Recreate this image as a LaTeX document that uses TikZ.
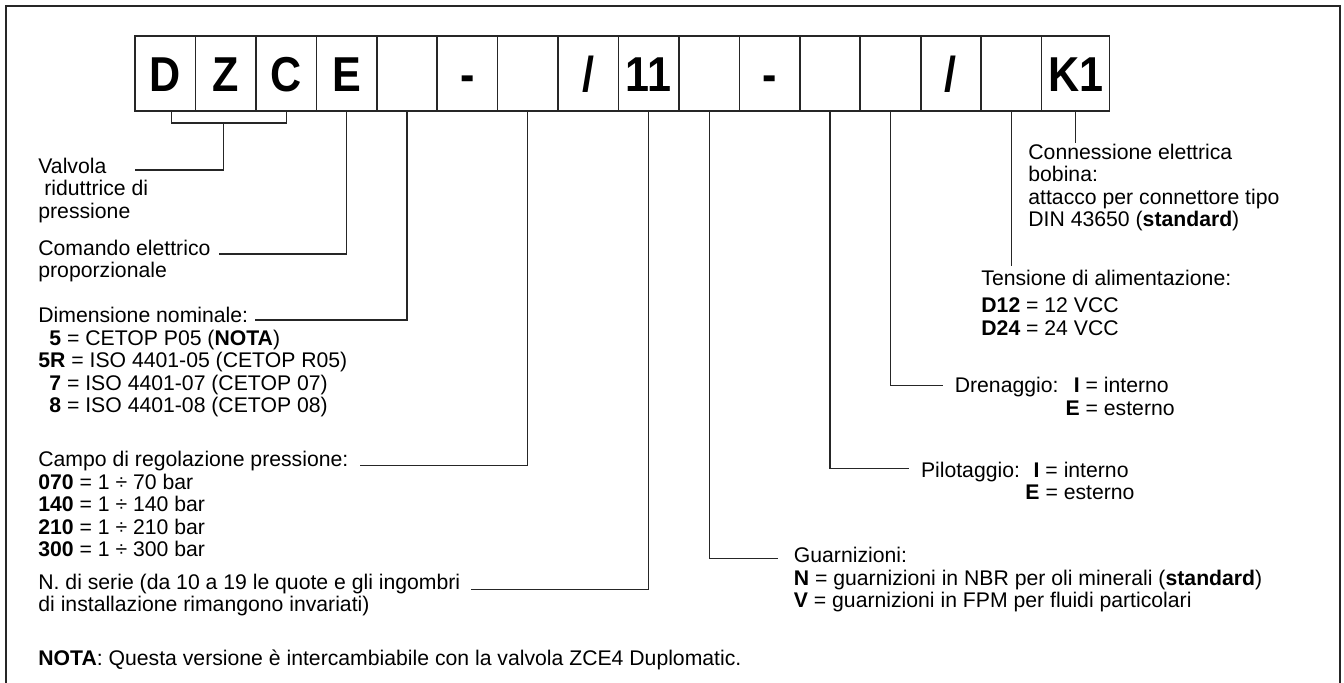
\documentclass[tikz,border=0pt]{standalone}
\usepackage{fontspec}
\setmainfont{Liberation Sans}
\usepackage{graphicx}
\usepackage{tikz}
\usetikzlibrary{positioning}
\tikzset{
  codebox/.style={rectangle, draw=black!85, line width=0.8pt, outer sep=0pt,
    inner sep=0pt, minimum width=30.22pt, minimum height=37.5pt,
    text height=17.6pt, text depth=0pt,
    font=\fontsize{24.5}{25}\selectfont\bfseries},
  lbl/.style={inner sep=0pt, anchor=base west,
    font=\fontsize{10.6}{11.25}\selectfont},
  lead/.style={line width=0.6pt, color=black!85},
  frame/.style={line width=0.75pt, color=black!85}
}
\newcommand{\nw}[1]{\scalebox{0.88}[1]{#1}}
\newcommand{\rows}[1]{\begin{tabular}[t]{@{}l@{}}#1\end{tabular}}

\begin{document}
\begin{tikzpicture}[x=0.5pt, y=-0.5pt]
  \useasboundingbox (0,0) rectangle (1344,682);
  \draw[frame] (6,6) rectangle (1340,700);
  \node[codebox, anchor=north west] (b1) at (135,36) {\nw{D}};
  \node[codebox, right=0pt of b1] (b2) {\nw{Z}};
  \node[codebox, right=0pt of b2] (b3) {\nw{C}};
  \node[codebox, right=0pt of b3] (b4) {\nw{E}};
  \node[codebox, right=0pt of b4] (b5) {};
  \node[codebox, right=0pt of b5] (b6) {\nw{-}};
  \node[codebox, right=0pt of b6] (b7) {};
  \node[codebox, right=0pt of b7] (b8) {\nw{/}};
  \node[codebox, right=0pt of b8] (b9) {\nw{11}};
  \node[codebox, right=0pt of b9] (b10) {};
  \node[codebox, right=0pt of b10] (b11) {\nw{-}};
  \node[codebox, right=0pt of b11] (b12) {};
  \node[codebox, right=0pt of b12] (b13) {};
  \node[codebox, right=0pt of b13] (b14) {\nw{/}};
  \node[codebox, right=0pt of b14] (b15) {};
  \node[codebox, right=0pt of b15, minimum width=34pt] (b16) {\nw{K1}};

  % left column
  \node[lbl] (valv) at (38,173) {\rows{Valvola\\\hspace*{3pt}riduttrice di\\pressione}};
  \node[lbl] (cmd) at (38,255) {\rows{Comando elettrico\\proporzionale}};
  \node[lbl] (dim) at (38,322) {Dimensione nominale:};
  \node[lbl] (dimv) at (38,345) {\rows{\hspace*{5.5pt}\textbf{5} = CETOP P05 (\textbf{NOTA})\\\textbf{5R} = ISO 4401-05 (CETOP R05)\\\hspace*{5.5pt}\textbf{7} = ISO 4401-07 (CETOP 07)\\\hspace*{5.5pt}\textbf{8} = ISO 4401-08 (CETOP 08)}};
  \node[lbl] (campo) at (38,466.7) {Campo di regolazione pressione:};
  \node[lbl] (campov) at (38,489.3) {\rows{\textbf{070} = 1 ÷ 70 bar\\\textbf{140} = 1 ÷ 140 bar\\\textbf{210} = 1 ÷ 210 bar\\\textbf{300} = 1 ÷ 300 bar}};
  \node[lbl] (serie) at (38,589.3) {\rows{N. di serie (da 10 a 19 le quote e gli ingombri\\di installazione rimangono invariati)}};
  \node[lbl] (nota) at (38,665) {\textbf{NOTA}: Questa versione è intercambiabile con la valvola ZCE4 Duplomatic.};

  % right column
  \node[lbl] (conn) at (1028,159.3) {\rows{Connessione elettrica\\bobina:\\attacco per connettore tipo\\DIN 43650 (\textbf{standard})}};
  \node[lbl] (tens) at (981,285) {\rows{Tensione di alimentazione:\\[2.5pt]\textbf{D12} = 12 VCC\\\textbf{D24} = 24 VCC}};
  \node[lbl] (dren) at (954.4,392.7) {\rows{\makebox[62.5pt]{Drenaggio:\hfill\textbf{I}} = interno\\\makebox[62.5pt][r]{\textbf{E}} = esterno}};
  \node[lbl] (pilo) at (920.6,477.3) {\rows{\makebox[59.3pt]{Pilotaggio:\hfill\textbf{I}} = interno\\\makebox[59.3pt][r]{\textbf{E}} = esterno}};
  \node[lbl] (guar) at (793.5,562.7) {\rows{Guarnizioni:\\\textbf{N} = guarnizioni in NBR per oli minerali (\textbf{standard})\\\textbf{V} = guarnizioni in FPM per fluidi particolari}};

  \coordinate (valvtip) at (135,170);
  \draw[lead] ([xshift=3.2pt]b1.south) -- ++(0,12) -| (b3.south);
  \draw[lead] ([xshift=-1pt, yshift=-6pt]b2.south) |- (valvtip);
  \draw[lead] (b4.south) |- ([shift={(4pt,0.5pt)}]cmd.base east);
  \draw[lead] (b5.south) |- ([shift={(3pt,1pt)}]dim.base east);
  \draw[lead] (b7.south) |- ([shift={(5.5pt,0.5pt)}]campo.base east);
  \draw[lead] (b9.south) |- ([shift={(5.3pt,0pt)}]serie.base east);
  \draw[lead] (b10.south) |- ([shift={(-8pt,2.2pt)}]guar.base west);
  \draw[lead] (b12.south) |- ([shift={(-6pt,4.5pt)}]pilo.base west);
  \draw[lead] (b13.south) |- ([shift={(-5.5pt,3.5pt)}]dren.base west);
  \draw[lead] (b15.south) -- ([yshift=1.5pt]tens.north -| b15.south);
  \draw[lead] (b16.south) -- (b16.south |- conn.north);
\end{tikzpicture}
\end{document}
